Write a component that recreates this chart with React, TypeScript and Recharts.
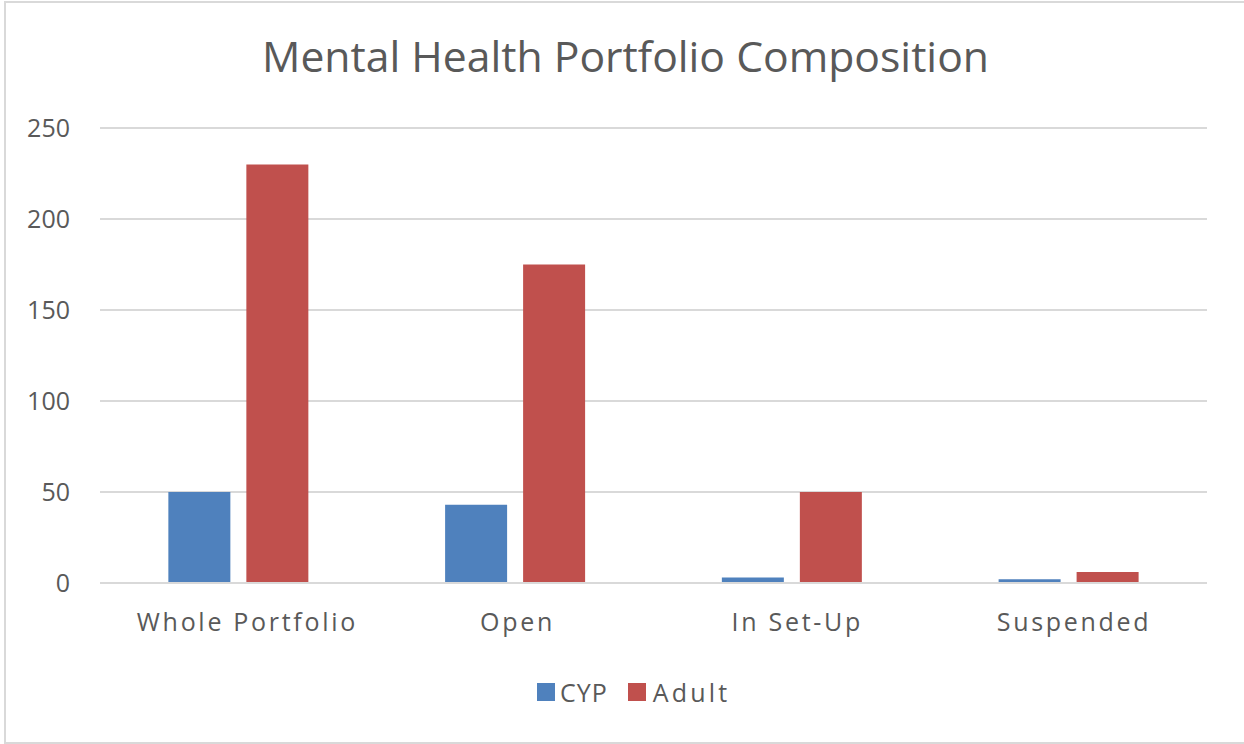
import React from 'react';
import { BarChart, Bar, XAxis, YAxis, CartesianGrid } from 'recharts';

const categories = ['Whole Portfolio', 'Open', 'In Set-Up', 'Suspended'];
const cypValues = [50, 43, 3, 2];
const adultValues = [230, 175, 50, 6];
const yTicks = [0, 50, 100, 150, 200, 250];

const data = categories.map((c, i) => ({ name: c, CYP: cypValues[i], Adult: adultValues[i] }));

const FONT = '"Open Sans", "Liberation Sans", sans-serif';
const TEXT = '#595959';
const BLUE = '#4F81BD';
const RED = '#C0504D';

const XTick = (props: any) => {
  const { x, y, payload } = props;
  const label = String(payload.value);
  return (
    <text x={x + label.length * 0.6} y={y + 40} textAnchor="middle" fill={TEXT} fontFamily={FONT} fontSize={25} letterSpacing={2.7}>
      {label}
    </text>
  );
};

const YTick = (props: any) => {
  const { y, payload } = props;
  return (
    <text x={70} y={y + 9} textAnchor="end" fill={TEXT} fontFamily={FONT} fontSize={25}>
      {payload.value}
    </text>
  );
};

export default function App() {
  return (
    <div style={{ position: 'absolute', left: 0, top: 0, width: 1244, height: 744, background: '#fff', overflow: 'hidden' }}>
      <div style={{ position: 'absolute', left: 4, top: 1, width: 1250, height: 743, border: '2px solid #d9d9d9', boxSizing: 'border-box' }} />
      <div style={{ position: 'absolute', left: 0, top: 26, width: 1251, textAlign: 'center', fontFamily: FONT, fontSize: 42.7, color: TEXT }}>
        Mental Health Portfolio Composition
      </div>
      <div style={{ position: 'absolute', left: 0, top: 0 }}>
        <BarChart width={1244} height={744} data={data} margin={{ top: 128, right: 37, bottom: 131, left: 0 }} barGap={16} barCategoryGap="24.7%">
          <CartesianGrid vertical={false} stroke="#d9d9d9" strokeWidth={2} />
          <XAxis dataKey="name" height={30} axisLine={{ stroke: '#d9d9d9', strokeWidth: 2 }} tickLine={false} tick={<XTick />} interval={0} />
          <YAxis width={100} domain={[0, 250]} ticks={yTicks} axisLine={false} tickLine={false} tick={<YTick />} />
          <Bar dataKey="CYP" fill={BLUE} isAnimationActive={false} />
          <Bar dataKey="Adult" fill={RED} isAnimationActive={false} />
        </BarChart>
      </div>
      <div style={{ position: 'absolute', top: 675, left: 537, display: 'flex', fontFamily: FONT, fontSize: 25, color: TEXT }}>
        <div style={{ display: 'flex', alignItems: 'center', marginRight: 20 }}>
          <span style={{ display: 'inline-block', width: 18, height: 18, background: BLUE, marginRight: 5 }} />
          <span style={{ letterSpacing: 1 }}>CYP</span>
        </div>
        <div style={{ display: 'flex', alignItems: 'center' }}>
          <span style={{ display: 'inline-block', width: 18, height: 18, background: RED, marginRight: 7 }} />
          <span style={{ letterSpacing: 3.2 }}>Adult</span>
        </div>
      </div>
    </div>
  );
}
